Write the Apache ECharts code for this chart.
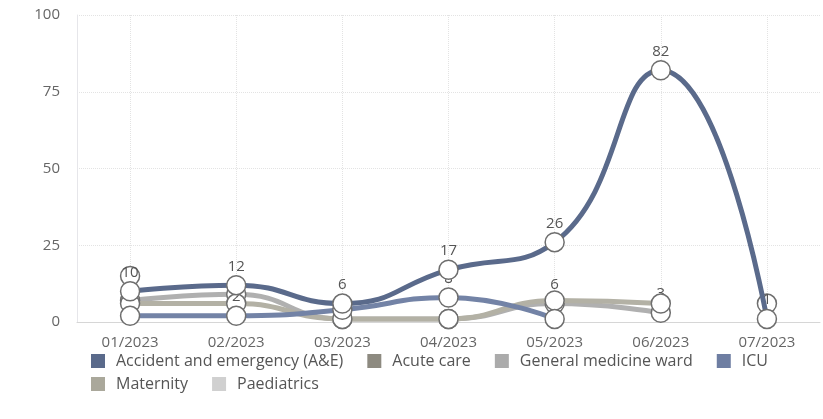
<!DOCTYPE html>
<html>
<head>
<meta charset="utf-8">
<script src="https://cdn.jsdelivr.net/npm/echarts@6/dist/echarts.min.js"></script>
<style>
  html, body { margin: 0; padding: 0; background: #fff; }
  #chart { width: 823px; height: 419px; }
</style>
</head>
<body>
<div id="chart"></div>
<script>
const months = ["01/2023", "02/2023", "03/2023", "04/2023", "05/2023", "06/2023", "07/2023"];

const seriesNames = ["Accident and emergency (A&E)", "Acute care", "General medicine ward", "ICU", "Maternity", "Paediatrics"];
const aeValues = [10, 12, 6, 17, 26, 82, 1];
const acuteValues = [15, null, null, null, null, null, 6];
const generalValues = [7, 9, 1, 1, 6, 3, null];
const icuValues = [2, 2, 4, 8, 1, null, null];
const maternityValues = [6, 6, 1, 1, 7, 6, null];
const paediatricsValues = [null, null, null, null, null, null, null];

// which points carry a visible value label (index into months)
const aeLabelled = [0, 1, 2, 3, 4, 5, 6];
const generalLabelled = [4, 5];
const icuLabelled = [0, 1, 3];

const colors = ["#5a6a8b", "#8d8a80", "#b0b0b0", "#7383a6", "#b3b1a5", "#d2d2d2"];
const legendColors = ["#5a6a8b", "#8d8a80", "#ababab", "#6e7ea2", "#aaa89b", "#d0d0d0"];
const TEXT = "#666";
const GRID = "#e3e3e3";

const chart = echarts.init(document.getElementById("chart"), null, { renderer: "canvas" });

function withLabels(values, labelled) {
  return values.map((v, i) => ({
    value: v,
    label: { show: labelled.indexOf(i) >= 0 },
  }));
}

function lineSeries(name, data, color, z) {
  return {
    name: name,
    type: "line",
    data: data,
    smooth: true,
    z: z,
    symbol: "circle",
    symbolSize: 19,
    lineStyle: { width: 5, color: color },
    itemStyle: { color: "#fff", borderColor: "#6e6e6e", borderWidth: 1.5 },
    label: {
      show: false,
      position: "top",
      distance: 1,
      color: "#555",
      fontSize: 15,
      fontFamily: "Open Sans",
    },
  };
}

chart.setOption({
  color: colors,
  textStyle: { fontFamily: "Open Sans" },
  animation: false,
  grid: { left: 77, right: 3, top: 15, bottom: 97 },
  legend: {
    left: 86,
    top: 348,
    width: 700,
    itemWidth: 14,
    itemHeight: 14,
    itemGap: 7,
    icon: "rect",
    textStyle: { color: "#555", fontSize: 16, lineHeight: 15, fontFamily: "Open Sans", padding: [0, 17, 0, 6] },
    data: seriesNames.map((n, i) => ({ name: n, itemStyle: { color: legendColors[i], borderWidth: 0 } })),
  },
  xAxis: {
    type: "category",
    data: months,
    boundaryGap: true,
    axisLine: { lineStyle: { color: "#d6d6d6" } },
    axisTick: { show: false },
    axisLabel: { color: TEXT, fontSize: 15, margin: 13 },
    splitLine: { show: true, alignWithLabel: true, lineStyle: { color: GRID, type: "dotted" } },
  },
  yAxis: {
    type: "value",
    min: 0,
    max: 100,
    interval: 25,
    axisLine: { show: true, lineStyle: { color: "#e6e6ea" } },
    axisTick: { show: false },
    axisLabel: { color: TEXT, fontSize: 15, margin: 17 },
    splitLine: { lineStyle: { color: GRID, type: "dotted" } },
  },
  series: [
    lineSeries(seriesNames[0], withLabels(aeValues, aeLabelled), colors[0], 6),
    lineSeries(seriesNames[1], acuteValues, colors[1], 2),
    lineSeries(seriesNames[2], withLabels(generalValues, generalLabelled), colors[2], 3),
    lineSeries(seriesNames[3], withLabels(icuValues, icuLabelled), colors[3], 5),
    lineSeries(seriesNames[4], maternityValues, colors[4], 4),
    lineSeries(seriesNames[5], paediatricsValues, colors[5], 1),
  ],
});
</script>
</body>
</html>
